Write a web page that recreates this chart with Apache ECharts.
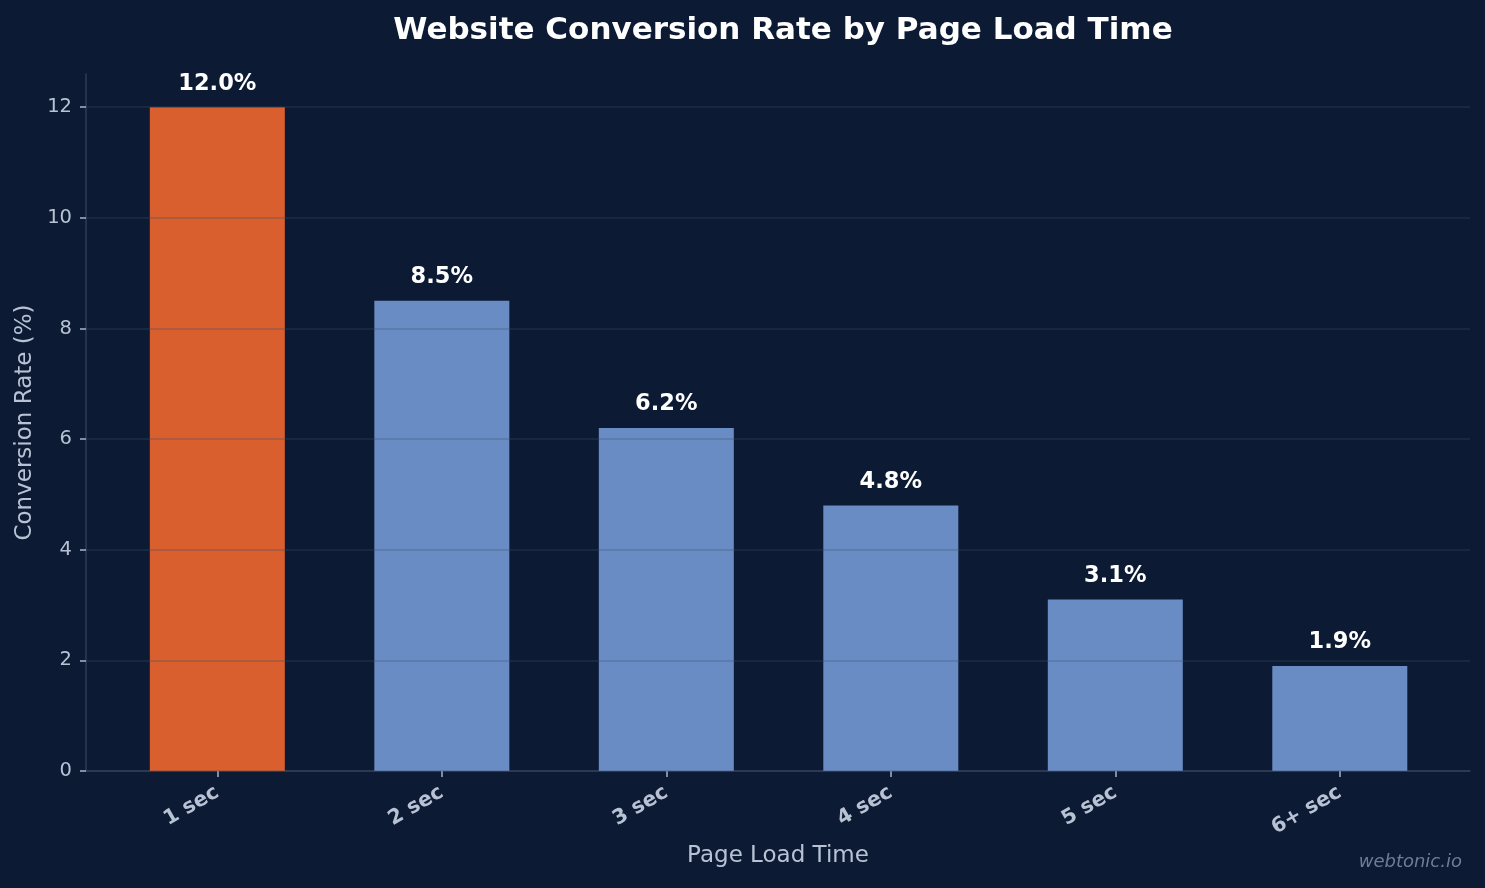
<!DOCTYPE html>
<html>
<head>
<meta charset="UTF-8">
<title>Website Conversion Rate by Page Load Time</title>
<script src="https://cdn.jsdelivr.net/npm/echarts@6/dist/echarts.min.js"></script>
<style>
  html, body { margin: 0; padding: 0; background: #0c1b33; }
  #main { width: 1485px; height: 888px; }
</style>
</head>
<body>
<div id="main"></div>
<script type="text/javascript">
    // chart data
    var loadTimes = ['1 sec', '2 sec', '3 sec', '4 sec', '5 sec', '6+ sec'];
    var conversionRates = [12.0, 8.5, 6.2, 4.8, 3.1, 1.9];
    var yTicks = [0, 2, 4, 6, 8, 10, 12];

    var myChart = echarts.init(document.getElementById('main'));

    var barData = conversionRates.map(function (v, i) {
        return {
            value: [i, v],
            itemStyle: { color: i === 0 ? '#d95f2e' : '#6a8cc4' }
        };
    });
    var tickIdx = loadTimes.map(function (c, i) { return i; });

    var option = {
        backgroundColor: '#0c1b33',
        textStyle: { fontFamily: 'DejaVu Sans' },
        title: {
            text: 'Website Conversion Rate by Page Load Time',
            left: 778,
            textAlign: 'center',
            top: 10,
            textStyle: { color: '#ffffff', fontSize: 31, fontWeight: 'bold', fontFamily: 'DejaVu Sans' }
        },
        graphic: [{
            type: 'text',
            right: 23,
            top: 853,
            style: {
                text: 'webtonic.io',
                fill: '#6f7d94',
                font: 'italic 18px "DejaVu Sans"'
            }
        }],
        grid: { left: 86, right: 15, top: 74, bottom: 117 },
        xAxis: {
            type: 'value',
            min: -0.585,
            max: 5.58,
            name: 'Page Load Time',
            nameLocation: 'middle',
            nameGap: 74,
            nameTextStyle: { color: '#b8c2d4', fontSize: 23, fontFamily: 'DejaVu Sans' },
            axisLine: { show: true, lineStyle: { color: '#2f3d57', width: 1.5 } },
            axisTick: { show: true, customValues: tickIdx, length: 6, lineStyle: { color: '#aab4c4', width: 1.5 } },
            axisLabel: {
                customValues: tickIdx,
                rotate: 30,
                margin: 20,
                color: '#b8c2d4',
                fontSize: 20.5,
                fontWeight: 'bold',
                fontFamily: 'DejaVu Sans',
                formatter: function (v) { return loadTimes[Math.round(v)]; }
            },
            splitLine: { show: false }
        },
        yAxis: {
            type: 'value',
            min: 0,
            max: 12.6,
            z: 3,
            name: 'Conversion Rate (%)',
            nameLocation: 'middle',
            nameGap: 48,
            nameTextStyle: { color: '#b8c2d4', fontSize: 23, fontFamily: 'DejaVu Sans' },
            axisLine: { show: true, onZero: false, lineStyle: { color: '#2f3d57', width: 1.5 } },
            axisTick: { show: true, customValues: yTicks, length: 6, lineStyle: { color: '#aab4c4', width: 1.5 } },
            axisLabel: { customValues: yTicks, color: '#b8c2d4', fontSize: 19.5, margin: 14, fontFamily: 'DejaVu Sans' },
            splitLine: { show: true, customValues: yTicks, lineStyle: { color: 'rgba(60,76,102,0.35)', width: 1.5 } }
        },
        series: [{
            type: 'bar',
            barWidth: 135,
            data: barData,
            label: {
                show: true,
                position: 'top',
                distance: 12,
                color: '#ffffff',
                fontSize: 22.5,
                fontWeight: 'bold',
                fontFamily: 'DejaVu Sans',
                formatter: function (p) { return p.value[1].toFixed(1) + '%'; }
            }
        }]
    };

    myChart.setOption(option);
</script>
</body>
</html>
